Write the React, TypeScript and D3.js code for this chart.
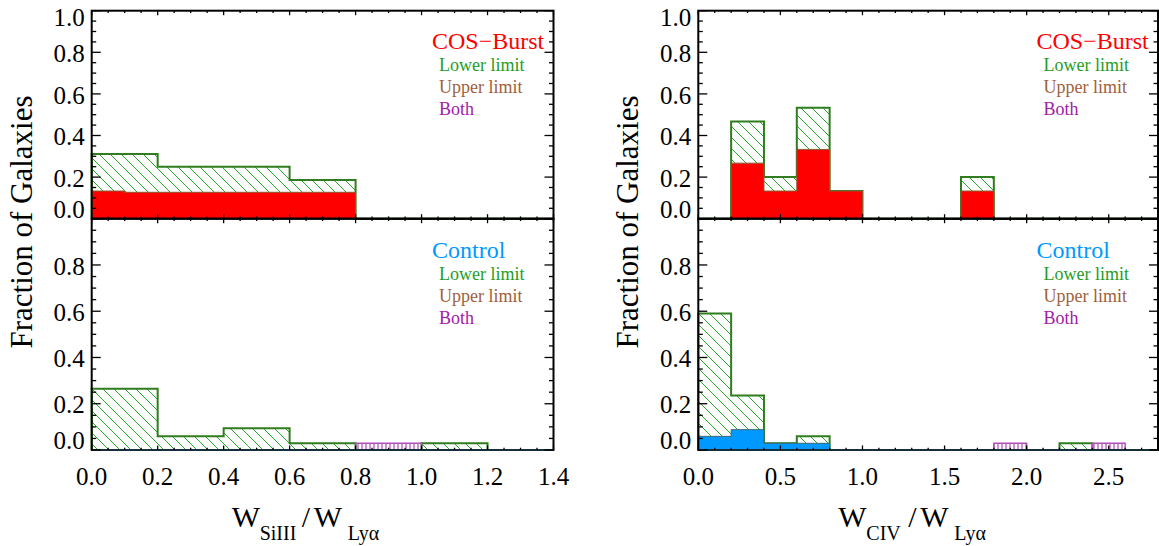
import React, { useEffect, useRef } from 'react';
import * as d3 from 'd3';

// Si III / Ly-alpha histograms (bin width 0.2, detections for COS-Burst at 0.1)
const siEdges = [0, 0.2, 0.4, 0.6, 0.8, 1.0, 1.2, 1.4];
const siFineEdges = [0, 0.1, 0.2, 0.3, 0.4, 0.5, 0.6, 0.7, 0.8];
const siBurstDetected = [0.133, 0.127, 0.127, 0.127, 0.127, 0.127, 0.127, 0.127];
const siBurstLower = [0.311, 0.25, 0.25, 0.186, 0, 0, 0];
const siControlDetected = [0, 0, 0, 0, 0, 0, 0];
const siControlLower = [0.265, 0.059, 0.094, 0.029, 0, 0.029, 0];
const siControlBoth = [0, 0, 0, 0, 0.029, 0, 0];

// C IV / Ly-alpha histograms (bin width 0.2)
const civEdges = [0, 0.2, 0.4, 0.6, 0.8, 1.0, 1.2, 1.4, 1.6, 1.8, 2.0, 2.2, 2.4, 2.6, 2.8];
const civBurstDetected = [0, 0.267, 0.133, 0.333, 0.133, 0, 0, 0, 0.133, 0, 0, 0, 0, 0];
const civBurstLower = [0, 0.467, 0.2, 0.533, 0.133, 0, 0, 0, 0.2, 0, 0, 0, 0, 0];
const civControlDetected = [0.059, 0.088, 0.029, 0.029, 0, 0, 0, 0, 0, 0, 0, 0, 0, 0];
const civControlLower = [0.59, 0.236, 0.029, 0.059, 0, 0, 0, 0, 0, 0, 0, 0.029, 0, 0];
const civControlBoth = [0, 0, 0, 0, 0, 0, 0, 0, 0, 0.029, 0, 0, 0.029, 0];

const topYTicks = [0, 0.2, 0.4, 0.6, 0.8, 1.0];
const bottomYTicks = [0, 0.2, 0.4, 0.6, 0.8];
const siXTicks = [0, 0.2, 0.4, 0.6, 0.8, 1.0, 1.2, 1.4];
const civXTicks = [0, 0.5, 1.0, 1.5, 2.0, 2.5];

const legendNames = ['Lower limit', 'Upper limit', 'Both'];
const legendColors = ['#1f9e1f', '#a0603a', '#a020a8'];

const FONT = "'Liberation Serif', 'Times New Roman', serif";
const RED = '#ff0000';
const BLUE = '#0099ff';
const GREEN_LINE = '#2f7d1f';
const PURPLE_LINE = '#b050b8';

function steps(edges, values) {
  const pts = [[edges[0], 0]];
  values.forEach((v, i) => pts.push([edges[i], v]));
  pts.push([edges[values.length], values[values.length - 1]]);
  pts.push([edges[values.length], 0]);
  return pts;
}

const App = () => {
  const ref = useRef(null);

  useEffect(() => {
    const svg = d3.select(ref.current);
    svg.selectAll('*').remove();
    svg.style('font-family', FONT);

    const defs = svg.append('defs');
    const hg = defs.append('pattern')
      .attr('id', 'hatchGreen')
      .attr('patternUnits', 'userSpaceOnUse')
      .attr('width', 11).attr('height', 11);
    hg.append('path')
      .attr('d', 'M0,0 L11,11 M-1,10 L1,12 M10,-1 L12,1')
      .attr('stroke', '#2aa82a').attr('stroke-width', 1);
    const hp = defs.append('pattern')
      .attr('id', 'hatchPurple')
      .attr('patternUnits', 'userSpaceOnUse')
      .attr('width', 4).attr('height', 10);
    hp.append('path')
      .attr('d', 'M2,0 L2,10')
      .attr('stroke', '#a020a8').attr('stroke-width', 1);

    const panels = [
      { x0: 91.7, x1: 553.5, y0: 10.7, y1: 218.7, xMax: 1.4, major: siXTicks, minor: 0.05,
        edges: siEdges, lower: siBurstLower, both: null, det: siBurstDetected, detEdges: siFineEdges,
        color: RED, name: 'COS\u2212Burst', top: true },
      { x0: 91.7, x1: 553.5, y0: 218.7, y1: 450, xMax: 1.4, major: siXTicks, minor: 0.05,
        edges: siEdges, lower: siControlLower, both: siControlBoth, det: siControlDetected, detEdges: siEdges,
        color: BLUE, name: 'Control', top: false, sub: 'SiIII' },
      { x0: 698.3, x1: 1158, y0: 10.7, y1: 218.7, xMax: 2.8, major: civXTicks, minor: 0.1,
        edges: civEdges, lower: civBurstLower, both: null, det: civBurstDetected, detEdges: civEdges,
        color: RED, name: 'COS\u2212Burst', top: true },
      { x0: 698.3, x1: 1158, y0: 218.7, y1: 450, xMax: 2.8, major: civXTicks, minor: 0.1,
        edges: civEdges, lower: civControlLower, both: civControlBoth, det: civControlDetected, detEdges: civEdges,
        color: BLUE, name: 'Control', top: false, sub: 'CIV' },
    ];

    panels.forEach((p) => {
      const x = d3.scaleLinear().domain([0, p.xMax]).range([p.x0, p.x1]);
      const y = d3.scaleLinear().domain([0, 1]).range([p.y1, p.y0]);
      const g = svg.append('g');

      const area = d3.area().x((d) => x(d[0])).y0(y(0)).y1((d) => y(d[1])).curve(d3.curveStepAfter);
      const line = d3.line().x((d) => x(d[0])).y((d) => y(d[1])).curve(d3.curveStepAfter);

      // lower limits (hatched)
      g.append('path').attr('d', area(steps(p.edges, p.lower))).attr('fill', 'url(#hatchGreen)');
      g.append('path').attr('d', line(steps(p.edges, p.lower)))
        .attr('fill', 'none').attr('stroke', GREEN_LINE).attr('stroke-width', 2);

      // both limits
      if (p.both) {
        g.append('path').attr('d', area(steps(p.edges, p.both))).attr('fill', 'url(#hatchPurple)');
        g.append('path').attr('d', line(steps(p.edges, p.both)))
          .attr('fill', 'none').attr('stroke', PURPLE_LINE).attr('stroke-width', 1.5);
      }

      // detections
      g.append('path').attr('d', area(steps(p.detEdges, p.det))).attr('fill', p.color);
      g.append('path').attr('d', line(steps(p.detEdges, p.det)))
        .attr('fill', 'none').attr('stroke', p.top ? '#8a5a30' : '#3a6a70').attr('stroke-width', 1);

      // frame
      g.append('rect')
        .attr('x', p.x0).attr('y', p.y0)
        .attr('width', p.x1 - p.x0).attr('height', p.y1 - p.y0)
        .attr('fill', 'none').attr('stroke', '#000').attr('stroke-width', 2);

      if (!p.top) {
        g.append('line')
          .attr('x1', p.x0).attr('x2', p.x1).attr('y1', y(0)).attr('y2', y(0))
          .attr('stroke', '#1c4050').attr('stroke-width', 1.5);
      }

      // y ticks
      const yMinor = d3.range(0, 21).map((i) => i * 0.05);
      yMinor.forEach((v) => {
        const isMajor = Math.abs(v * 5 - Math.round(v * 5)) < 1e-6;
        const len = isMajor ? 9 : 4.5;
        g.append('line').attr('x1', p.x0).attr('x2', p.x0 + len).attr('y1', y(v)).attr('y2', y(v))
          .attr('stroke', '#000').attr('stroke-width', 1.3);
        g.append('line').attr('x1', p.x1).attr('x2', p.x1 - len).attr('y1', y(v)).attr('y2', y(v))
          .attr('stroke', '#000').attr('stroke-width', 1.3);
      });

      // x ticks
      const nMinor = Math.round(p.xMax / p.minor);
      d3.range(0, nMinor + 1).map((i) => i * p.minor).forEach((v) => {
        const isMajor = p.major.some((m) => Math.abs(m - v) < 1e-6);
        const len = isMajor ? 4.5 : 2.3;
        g.append('line').attr('x1', x(v)).attr('x2', x(v)).attr('y1', p.y1).attr('y2', p.y1 - len)
          .attr('stroke', '#000').attr('stroke-width', 1.3);
        g.append('line').attr('x1', x(v)).attr('x2', x(v)).attr('y1', p.y0).attr('y2', p.y0 + len)
          .attr('stroke', '#000').attr('stroke-width', 1.3);
      });

      // y tick labels
      (p.top ? topYTicks : bottomYTicks).forEach((v) => {
        const nudge = v === 1 ? 7 : v === 0 ? -9.5 : 1;
        g.append('text')
          .attr('x', p.x0 - 7).attr('y', y(v) + nudge)
          .attr('dy', '0.35em')
          .attr('text-anchor', 'end')
          .attr('font-size', 25)
          .text(d3.format('.1f')(v));
      });

      // x tick labels and title under bottom panels
      if (!p.top) {
        p.major.forEach((v) => {
          g.append('text')
            .attr('x', x(v)).attr('y', 485)
            .attr('text-anchor', 'middle')
            .attr('font-size', 25)
            .text(d3.format('.1f')(v));
        });
        const t = g.append('text').attr('y', 527);
        t.append('tspan').attr('x', p.x0 + 140).attr('font-size', 30).text('W');
        t.append('tspan').attr('x', p.x0 + 168).attr('y', 540).attr('font-size', 20).text(p.sub);
        t.append('tspan').attr('x', p.x0 + 210).attr('y', 527).attr('font-size', 30).text('/');
        t.append('tspan').attr('x', p.x0 + 222).attr('font-size', 30).text('W');
        t.append('tspan').attr('x', p.x0 + 256).attr('y', 540).attr('font-size', 20).text('Ly\u03b1');

        svg.append('text')
          .attr('transform', `translate(${p.x0 - 60},222) rotate(-90)`)
          .attr('text-anchor', 'middle')
          .attr('font-size', 31)
          .text('Fraction of Galaxies');
      }

      // legend
      const base = p.top ? 48.5 : 257.5;
      g.append('text')
        .attr('x', p.x1 - 121.5).attr('y', base)
        .attr('font-size', 24)
        .attr('fill', p.color)
        .text(p.name);
      legendNames.forEach((n, i) => {
        g.append('text')
          .attr('x', p.x1 - 114.5).attr('y', base + 22.3 * (i + 1))
          .attr('font-size', 18)
          .attr('fill', legendColors[i])
          .text(n);
      });
    });
  }, []);

  return (
    <svg ref={ref} width={1159} height={546}
      style={{ position: 'absolute', left: 0, top: 0, background: '#fff' }} />
  );
};

export default App;
